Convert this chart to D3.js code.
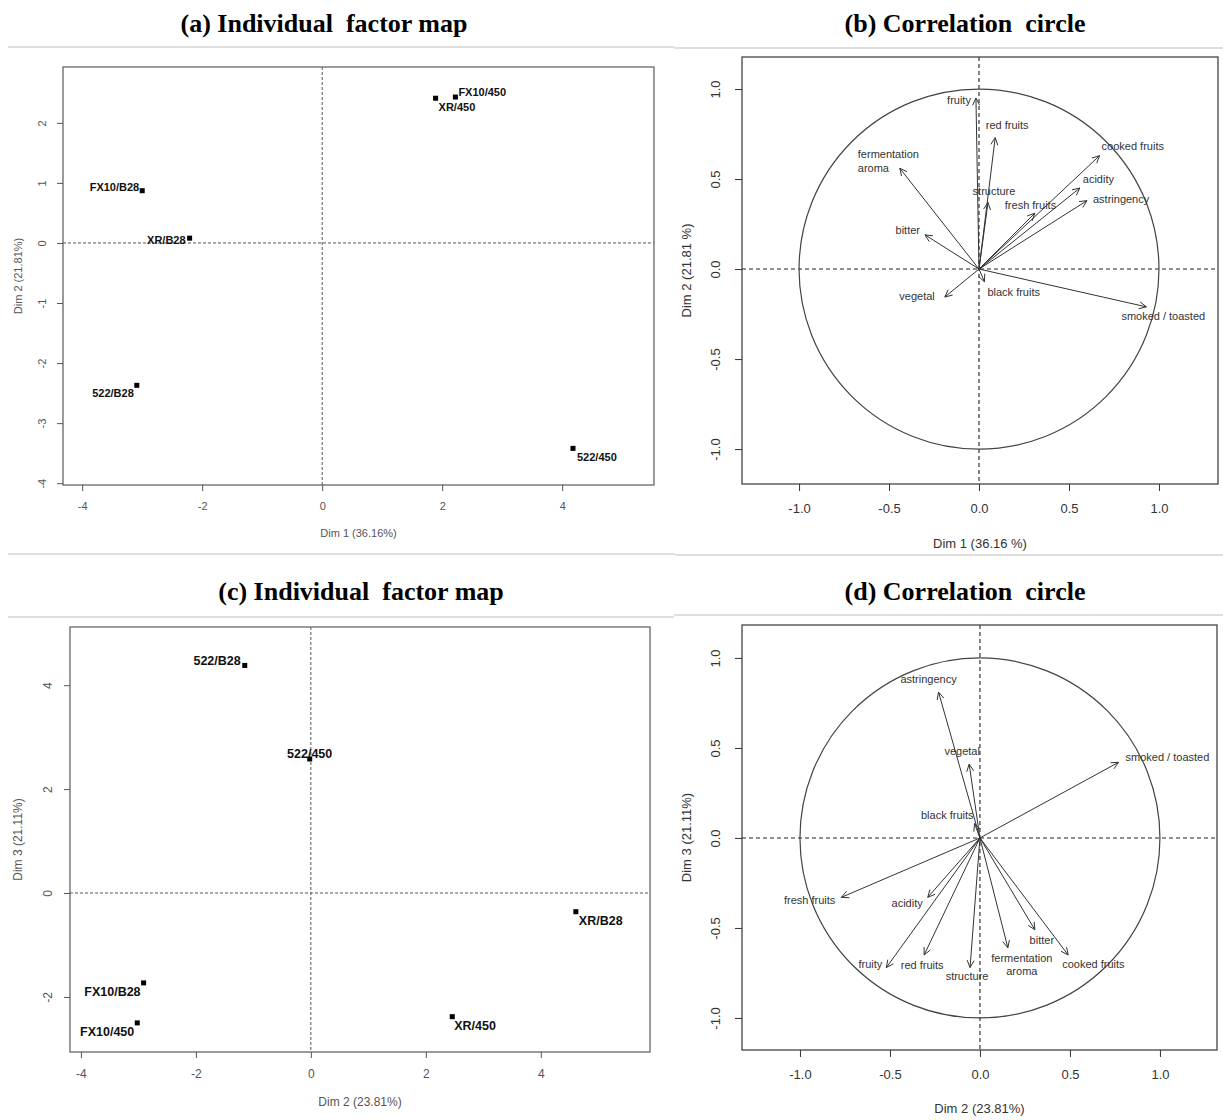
<!DOCTYPE html>
<html>
<head>
<meta charset="utf-8">
<script src="https://cdn.jsdelivr.net/npm/d3@7"></script>
<style>
  body { margin: 0; background: #fff; }
  svg { display: block; }
</style>
</head>
<body>
<div id="chart"></div>
<script>
// ---- data ----
var indNames = ["FX10/450", "XR/450", "FX10/B28", "XR/B28", "522/B28", "522/450"];
var indA_dim1 = [2.22, 1.89, -3.00, -2.21, -3.09, 4.18];
var indA_dim2 = [2.43, 2.41, 0.87, 0.08, -2.37, -3.42];

var indC_dim2 = [-3.02, 2.46, -2.91, 4.61, -1.15, -0.02];
var indC_dim3 = [-2.50, -2.38, -1.73, -0.36, 4.38, 2.58];

var varNames = ["fruity", "red fruits", "fermentation\naroma", "cooked fruits", "acidity", "astringency",
                "structure", "fresh fruits", "bitter", "vegetal", "black fruits", "smoked / toasted"];
var varB_dim1 = [-0.017, 0.09, -0.44, 0.67, 0.56, 0.60, 0.05, 0.31, -0.30, -0.19, 0.03, 0.93];
var varB_dim2 = [0.95, 0.73, 0.56, 0.63, 0.45, 0.38, 0.37, 0.31, 0.19, -0.155, -0.07, -0.21];
var varD_dim2 = [-0.52, -0.31, 0.155, 0.49, -0.29, -0.23, -0.055, -0.77, 0.305, -0.06, -0.03, 0.77];
var varD_dim3 = [-0.72, -0.65, -0.61, -0.65, -0.33, 0.81, -0.72, -0.33, -0.51, 0.41, 0.08, 0.42];

var indTicks = [-4, -2, 0, 2, 4];
var indATicksY = [-4, -3, -2, -1, 0, 1, 2];
var indCTicksY = [-2, 0, 2, 4];
var corTicks = [-1, -0.5, 0, 0.5, 1];

// label placement (anchor, dx, dy in px from the point / arrow tip)
var labA = {"FX10/450": ["start", 3, -5], "XR/450": ["start", 3, 9], "FX10/B28": ["end", -3, -4],
            "XR/B28": ["end", -4, 2], "522/B28": ["end", -3, 8], "522/450": ["start", 4, 9]};
var labC = {"522/B28": ["end", -4, -5], "522/450": ["middle", 0, -5], "XR/B28": ["start", 3, 9],
            "FX10/B28": ["end", -3, 9], "FX10/450": ["end", -3, 9], "XR/450": ["start", 2, 9]};
var labB = {"fruity": ["end", -5, 2], "red fruits": ["middle", 12, -12], "fermentation\naroma": ["start", -42, -14],
            "cooked fruits": ["start", 2, -9], "acidity": ["start", 3, -9], "astringency": ["start", 6, -2],
            "structure": ["middle", 6, -11], "fresh fruits": ["start", -30, -8], "bitter": ["end", -5, -5],
            "vegetal": ["end", -10, -1], "black fruits": ["start", 3, 10], "smoked / toasted": ["start", -25, 9]};
var labD = {"astringency": ["middle", -10, -13], "vegetal": ["middle", -7, -13], "smoked / toasted": ["start", 7, -5],
            "black fruits": ["end", -1, -8], "fresh fruits": ["end", -6, 3], "acidity": ["end", -5, 6],
            "fruity": ["end", -4, -3], "red fruits": ["middle", -2, 10], "structure": ["middle", -3, 9],
            "fermentation\naroma": ["middle", 14, 10], "bitter": ["middle", 7, 10], "cooked fruits": ["start", -6, 9]};

function main() {
    var svg = d3.select("#chart").append("svg")
        .attr("width", 1223).attr("height", 1120);
    svg.append("rect").attr("width", 1223).attr("height", 1120).attr("fill", "#fff");

    // separators under the titles and between rows
    var seps = [[8, 674, 47], [674, 1223, 48], [8, 675, 554], [675, 1223, 555], [8, 674, 617], [674, 1223, 615]];
    svg.selectAll(".sep").data(seps).enter().append("line")
        .attr("x1", d => d[0]).attr("x2", d => d[1]).attr("y1", d => d[2]).attr("y2", d => d[2])
        .attr("stroke", "#d4d4d4").attr("stroke-width", 1.5);

    var titles = [["(a) Individual  factor map", 324, 32], ["(b) Correlation  circle", 965, 32],
                  ["(c) Individual  factor map", 361, 600], ["(d) Correlation  circle", 965, 600]];
    svg.selectAll(".title").data(titles).enter().append("text")
        .attr("x", d => d[1]).attr("y", d => d[2])
        .attr("text-anchor", "middle")
        .style("font-family", "'Liberation Serif','Times New Roman',serif")
        .style("font-weight", "bold").style("font-size", "26px")
        .style("white-space", "pre")
        .text(d => d[0]);

    indPanel(svg, {
        x: d3.scaleLinear().domain([-4.32, 5.53]).range([63, 654]),
        y: d3.scaleLinear().domain([-4.03, 2.93]).range([485, 67]),
        xs: indA_dim1, ys: indA_dim2, lab: labA, xt: indTicks, yt: indATicksY,
        fs: 11, lfs: 11, xPad: 11, yOff: 21, xTitle: "Dim 1 (36.16%)", yTitle: "Dim 2 (21.81%)",
        xTitleY: 533, yTitleX: 18
    });
    indPanel(svg, {
        x: d3.scaleLinear().domain([-4.19, 5.9]).range([70, 650]),
        y: d3.scaleLinear().domain([-3.06, 5.12]).range([1052, 627]),
        xs: indC_dim2, ys: indC_dim3, lab: labC, xt: indTicks, yt: indCTicksY,
        fs: 12, lfs: 12.5, xPad: 11, yOff: 22, xTitle: "Dim 2 (23.81%)", yTitle: "Dim 3 (21.11%)",
        xTitleY: 1102, yTitleX: 18
    });
    corPanel(svg, {
        x: d3.scaleLinear().domain([-1.317, 1.328]).range([742, 1218]),
        y: d3.scaleLinear().domain([-1.194, 1.178]).range([484, 57]),
        xs: varB_dim1, ys: varB_dim2, lab: labB,
        xTitle: "Dim 1 (36.16 %)", yTitle: "Dim 2 (21.81 %)", xTitleY: 543, yTitleX: 686
    });
    corPanel(svg, {
        x: d3.scaleLinear().domain([-1.322, 1.317]).range([742, 1217]),
        y: d3.scaleLinear().domain([-1.178, 1.183]).range([1050, 625]),
        xs: varD_dim2, ys: varD_dim3, lab: labD,
        xTitle: "Dim 2 (23.81%)", yTitle: "Dim 3 (21.11%)", xTitleY: 1108, yTitleX: 686
    });
}

// R prints a plain hyphen, d3 a unicode minus
function fmtMinus(f) {
    return function (v) { return f(v).replace("\u2212", "-"); };
}

function frame(svg, c, stroke, sw) {
    var x0 = c.x.range()[0], x1 = c.x.range()[1], y0 = c.y.range()[1], y1 = c.y.range()[0];
    svg.append("rect").attr("x", x0).attr("y", y0).attr("width", x1 - x0).attr("height", y1 - y0)
        .attr("fill", "none").attr("stroke", stroke).attr("stroke-width", sw);
}

function axes(svg, c, xt, yt, fmt, fs, xPad, yOff, tl, col) {
    var gx = svg.append("g").attr("transform", "translate(0," + c.y.range()[0] + ")")
        .call(d3.axisBottom(c.x).tickValues(xt).tickFormat(fmt).tickSize(tl).tickPadding(xPad));
    var gy = svg.append("g").attr("transform", "translate(" + c.x.range()[0] + ",0)")
        .call(d3.axisLeft(c.y).tickValues(yt).tickFormat(fmt).tickSize(tl));
    [gx, gy].forEach(function (g) {
        g.select(".domain").remove();
        g.selectAll("line").attr("stroke", col);
        g.selectAll("text").attr("fill", col)
            .style("font-family", "Arial,'Liberation Sans',sans-serif").style("font-size", fs + "px");
    });
    gy.selectAll("text")
        .attr("x", 0).attr("y", -yOff).attr("dy", "0.35em")
        .attr("text-anchor", "middle").attr("transform", "rotate(-90)");
}

function titlesXY(svg, c, fs, col) {
    var cx = d3.mean(c.x.range()), cy = d3.mean(c.y.range());
    svg.append("text").attr("x", cx).attr("y", c.xTitleY).attr("dy", "0.35em")
        .attr("text-anchor", "middle").attr("fill", col)
        .style("font-family", "Arial,'Liberation Sans',sans-serif").style("font-size", fs + "px")
        .text(c.xTitle);
    svg.append("text").attr("transform", "translate(" + c.yTitleX + "," + cy + ") rotate(-90)")
        .attr("dy", "0.35em").attr("text-anchor", "middle").attr("fill", col)
        .style("font-family", "Arial,'Liberation Sans',sans-serif").style("font-size", fs + "px")
        .text(c.yTitle);
}

function indPanel(svg, c) {
    var x0 = c.x.range()[0], x1 = c.x.range()[1], y0 = c.y.range()[1], y1 = c.y.range()[0];
    // zero lines
    svg.append("line").attr("x1", x0).attr("x2", x1).attr("y1", c.y(0)).attr("y2", c.y(0))
        .attr("stroke", "#555").attr("stroke-dasharray", "3,2");
    svg.append("line").attr("x1", c.x(0)).attr("x2", c.x(0)).attr("y1", y0).attr("y2", y1)
        .attr("stroke", "#555").attr("stroke-dasharray", "3,2");
    frame(svg, c, "#666", 1.3);
    axes(svg, c, c.xt, c.yt, fmtMinus(d3.format("d")), c.fs, c.xPad, c.yOff, 6, "#555");
    titlesXY(svg, c, c.fs, "#555");

    var pts = indNames.map(function (n, i) { return { name: n, x: c.xs[i], y: c.ys[i] }; });
    svg.selectAll(null).data(pts).enter().append("rect")
        .attr("x", d => c.x(d.x) - 2.5).attr("y", d => c.y(d.y) - 2.5)
        .attr("width", 5).attr("height", 5).attr("fill", "#000");
    svg.selectAll(null).data(pts).enter().append("text")
        .attr("x", d => c.x(d.x) + c.lab[d.name][1])
        .attr("y", d => c.y(d.y) + c.lab[d.name][2])
        .attr("dy", "0.35em")
        .attr("text-anchor", d => c.lab[d.name][0])
        .attr("fill", "#111")
        .style("font-family", "Arial,'Liberation Sans',sans-serif")
        .style("font-weight", "bold").style("font-size", c.lfs + "px")
        .text(d => d.name);
}

function corPanel(svg, c) {
    var x0 = c.x.range()[0], x1 = c.x.range()[1], y0 = c.y.range()[1], y1 = c.y.range()[0];
    svg.append("line").attr("x1", x0).attr("x2", x1).attr("y1", c.y(0)).attr("y2", c.y(0))
        .attr("stroke", "#222").attr("stroke-width", 1.1).attr("stroke-dasharray", "4,3");
    svg.append("line").attr("x1", c.x(0)).attr("x2", c.x(0)).attr("y1", y0).attr("y2", y1)
        .attr("stroke", "#222").attr("stroke-width", 1.1).attr("stroke-dasharray", "4,3");
    // unit circle
    svg.append("ellipse").attr("cx", c.x(0)).attr("cy", c.y(0))
        .attr("rx", c.x(1) - c.x(0)).attr("ry", c.y(0) - c.y(1))
        .attr("fill", "none").attr("stroke", "#444").attr("stroke-width", 1.2);
    frame(svg, c, "#444", 1.3);
    axes(svg, c, corTicks, corTicks, fmtMinus(d3.format(".1f")), 13, 13, 26.5, 7, "#333");
    titlesXY(svg, c, 13, "#333");

    var vars = varNames.map(function (n, i) { return { name: n, x: c.xs[i], y: c.ys[i] }; });
    var ox = c.x(0), oy = c.y(0);
    var g = svg.append("g").attr("stroke", "#333").attr("stroke-width", 1).attr("fill", "none");
    vars.forEach(function (d) {
        var tx = c.x(d.x), ty = c.y(d.y);
        var ang = Math.atan2(ty - oy, tx - ox), L = 8, w = 0.45;
        var p = d3.path();
        p.moveTo(ox, oy); p.lineTo(tx, ty);
        p.moveTo(tx - L * Math.cos(ang - w), ty - L * Math.sin(ang - w));
        p.lineTo(tx, ty);
        p.lineTo(tx - L * Math.cos(ang + w), ty - L * Math.sin(ang + w));
        g.append("path").attr("d", p.toString());
    });
    var t = svg.selectAll(null).data(vars).enter().append("text")
        .attr("x", d => c.x(d.x) + c.lab[d.name][1])
        .attr("y", d => c.y(d.y) + c.lab[d.name][2])
        .attr("text-anchor", d => c.lab[d.name][0])
        .attr("fill", "#333")
        .style("font-family", "Arial,'Liberation Sans',sans-serif").style("font-size", "11px");
    t.each(function (d) {
        var lines = d.name.split("\n"), el = d3.select(this);
        var x = el.attr("x");
        lines.forEach(function (ln, i) {
            el.append("tspan").attr("x", x)
                .attr("dy", i === 0 ? "0.35em" : "1.25em")
                .text(ln);
        });
    });
}

main();
</script>
</body>
</html>
